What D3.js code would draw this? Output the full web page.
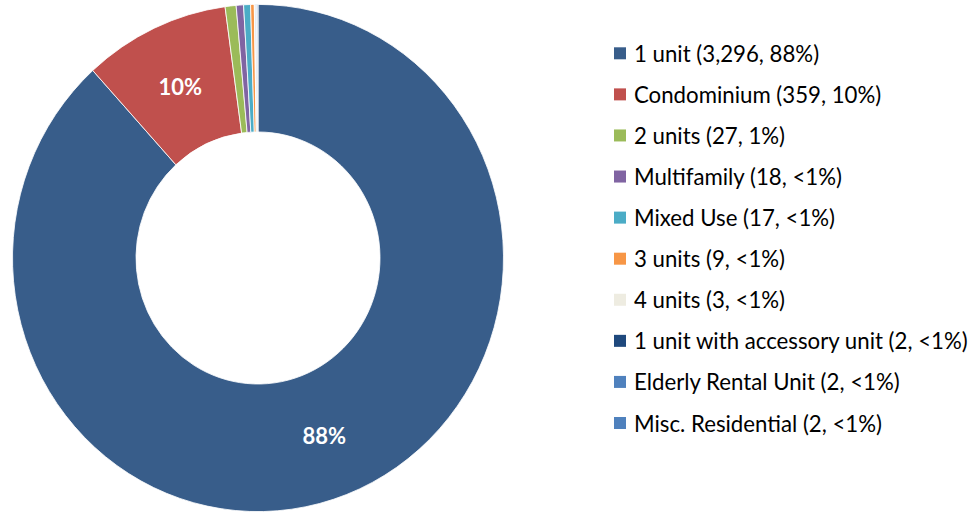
<!DOCTYPE html>
<html><head><meta charset="utf-8">
<script src="https://cdn.jsdelivr.net/npm/d3@7"></script>
<style>body{margin:0;background:#fff;}svg{display:block;}</style>
</head><body>
<svg id="c" width="980" height="512"></svg>
<script>
const categories = ["1 unit","Condominium","2 units","Multifamily","Mixed Use","3 units","4 units","1 unit with accessory unit","Elderly Rental Unit","Misc. Residential"];
const values = [3296,359,27,18,17,9,3,2,2,2];
const pctLabels = ["88%","10%","1%","<1%","<1%","<1%","<1%","<1%","<1%","<1%"];
const sliceLabels = ["88%","10%","","","","","","","",""];
const colors = ["#385D8A","#C0504D","#9BBB59","#8064A2","#4BACC6","#F79646","#EEECE1","#1F497D","#4F81BD","#4F81BD"];

const svg = d3.select("#c");
const cx = 258, cy = 258, rOut = 245.5, rIn = 122, sy = 1.033;
const data = categories.map((c,i)=>({cat:c,value:values[i],pct:pctLabels[i],lab:sliceLabels[i],color:colors[i]}));
const pie = d3.pie().sort(null).value(d=>d.value);
const arc = d3.arc().innerRadius(rIn).outerRadius(rOut);
const arcs = pie(data);
const g = svg.append("g").attr("transform",`translate(${cx},${cy}) scale(1,${sy})`);
g.selectAll("path").data(arcs).join("path")
  .attr("d",arc).attr("fill",d=>d.data.color)
  .attr("stroke","#fff").attr("stroke-width",0.8);
const lg = svg.append("g").attr("transform",`translate(${cx},${cy})`);
lg.selectAll("text").data(arcs.filter(d=>d.data.lab)).join("text")
  .attr("x",d=>arc.centroid(d)[0]).attr("y",d=>arc.centroid(d)[1]*sy)
  .attr("text-anchor","middle").attr("dominant-baseline","central")
  .attr("fill","#fff").attr("font-family","Lato, 'Open Sans', sans-serif")
  .attr("font-weight","bold").attr("font-size",22).text(d=>d.data.lab);

const fmt = d3.format(",");
const leg = svg.append("g");
const rowY = d3.scalePoint().domain(categories).range([53.3,423]);
const items = leg.selectAll("g").data(data).join("g")
  .attr("transform",d=>`translate(614,${rowY(d.cat)})`);
items.append("rect").attr("x",0).attr("y",-6).attr("width",12).attr("height",12).attr("fill",d=>d.color);
const texts = items.append("text").attr("x",20).attr("y",0).attr("dominant-baseline","central")
  .attr("fill","#000").attr("font-family","Lato, 'Open Sans', sans-serif").attr("font-size",19)
  .text(d=>`${d.cat} (${fmt(d.value)}, ${d.pct})`);
// fit longest label to reference width
let maxW = 0; texts.each(function(){maxW=Math.max(maxW,this.getComputedTextLength());});
const fs = 19*334/maxW;
texts.attr("font-size",fs);
</script>
</body></html>
